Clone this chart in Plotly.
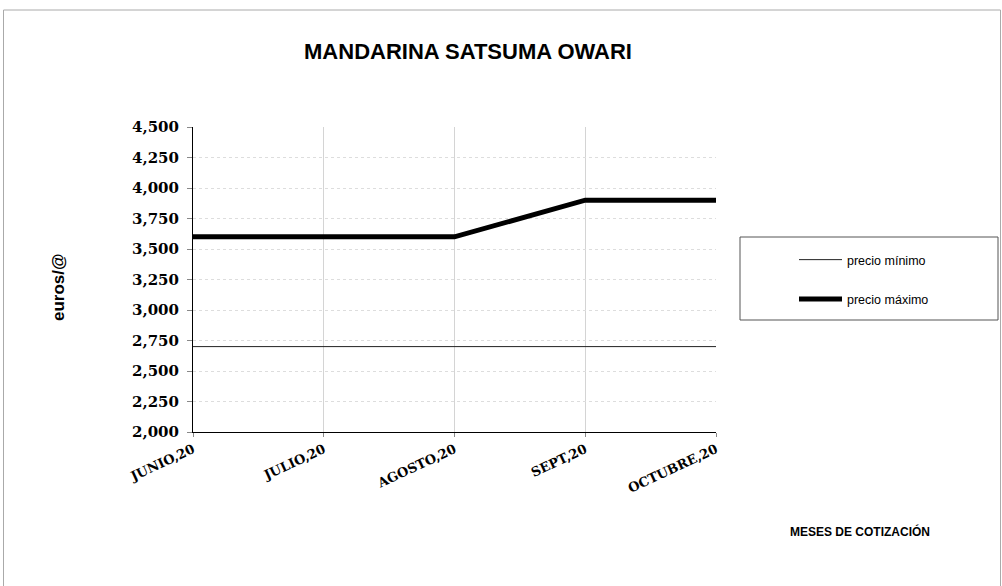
import plotly.graph_objects as go

meses = ['JUNIO,20', 'JULIO,20', 'AGOSTO,20', 'SEPT,20', 'OCTUBRE,20']
precio_minimo = [2.7, 2.7, 2.7, 2.7, 2.7]
precio_maximo = [3.6, 3.6, 3.6, 3.9, 3.9]

# plot area in pixels: x 193..716, y 127..432
L, R, T, B = 193, 286, 127, 154
W, H = 1002, 586
pw, ph = W - L - R, H - T - B

def px(x):
    return (x - L) / pw

def py(y):
    return (H - B - y) / ph

fig = go.Figure()
fig.add_trace(go.Scatter(x=meses, y=precio_minimo, mode='lines', name='precio mínimo',
                         line=dict(color='#222222', width=1), legendgroup='a'))
fig.add_trace(go.Scatter(x=meses, y=precio_maximo, mode='lines', name='precio máximo',
                         line=dict(color='black', width=5), legendgroup='b'))

ytickfont = dict(family='DejaVu Serif', size=15, color='black', weight='bold')
xtickfont = dict(family='DejaVu Serif', size=13, color='black', weight='bold')

fig.update_layout(
    width=W, height=H,
    margin=dict(l=L, r=R, t=T, b=B, pad=0),
    paper_bgcolor='white', plot_bgcolor='white',
    separators=',.',
    font=dict(family='Liberation Sans, Arial', color='black'),
    title=dict(text='<b>MANDARINA SATSUMA OWARI</b>', x=468 / W, xanchor='center',
               y=1 - 51 / H, yanchor='middle', font=dict(size=22, family='Liberation Sans, Arial')),
    showlegend=True,
    legend=dict(x=px(794), y=py(245), xanchor='left', yanchor='top',
                bgcolor='rgba(0,0,0,0)', borderwidth=0, tracegroupgap=20, itemwidth=43,
                font=dict(size=12.5, family='Liberation Sans, Arial')),
    xaxis=dict(range=[0, 4], tickangle=-25, tickfont=xtickfont,
               showline=True, linecolor='black', linewidth=1,
               showgrid=True, gridcolor='#d4d4d4', gridwidth=1,
               ticks='outside', ticklen=4, tickcolor='#888888', zeroline=False),
    yaxis=dict(range=[2.0, 4.5], dtick=0.25, tickformat='.3f', tickfont=ytickfont,
               ticklabelstandoff=5,
               showline=True, linecolor='black', linewidth=1,
               showgrid=True, gridcolor='#dddddd', griddash='dot', gridwidth=1,
               ticks='outside', ticklen=5, tickcolor='#888888', zeroline=False),
    shapes=[
        dict(type='rect', xref='paper', yref='paper', x0=px(3.5), x1=px(1000.5),
             y0=py(600), y1=py(10), line=dict(color='#aaaaaa', width=1), layer='below'),
        dict(type='rect', xref='paper', yref='paper', x0=px(740), x1=px(998),
             y0=py(320), y1=py(237), line=dict(color='#555555', width=1)),
    ],
    annotations=[
        dict(text='<b>euros/@</b>', xref='paper', yref='paper', x=px(58), y=py(287),
             textangle=-90, showarrow=False, font=dict(size=17, family='Liberation Sans, Arial'),
             xanchor='center', yanchor='middle'),
        dict(text='<b>MESES DE COTIZACIÓN</b>', xref='paper', yref='paper', x=px(860), y=py(531),
             showarrow=False, font=dict(size=12, family='Liberation Sans, Arial'),
             xanchor='center', yanchor='middle'),
    ],
)

# page body has a default 8px margin; drop it so the figure sits at the window origin
fig.write_html('out.html', config={'displayModeBar': False},
               post_script="document.body.style.margin='0';")
